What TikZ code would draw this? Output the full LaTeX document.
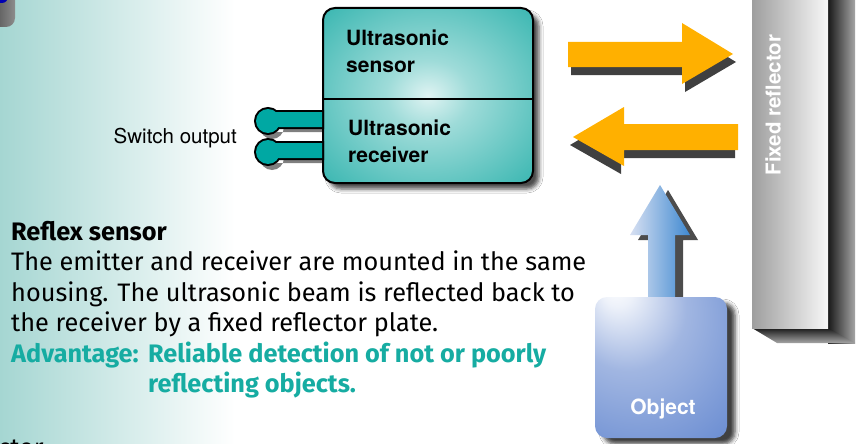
\documentclass[tikz,border=0pt]{standalone}
\usepackage{fontspec}
\setmainfont{Fira Sans}
\newfontfamily\helv{TeX Gyre Heros}
\usetikzlibrary{shadows.blur}
\definecolor{bgteal}{RGB}{165,214,210}
\definecolor{boxteal}{RGB}{40,176,170}
\definecolor{pinteal}{RGB}{0,168,163}
\definecolor{advteal}{RGB}{22,172,162}
\definecolor{arroworange}{RGB}{255,176,0}
\definecolor{objblue}{RGB}{74,116,200}
\definecolor{objlight}{RGB}{190,204,234}
\pgfdeclareradialshading{objshade}{\pgfpoint{-18bp}{30bp}}{color(0bp)=(white); color(6bp)=(white!90!objblue); color(22bp)=(objlight!75!objblue); color(50bp)=(objblue!85!white); color(72bp)=(objblue)}
\pgfdeclareradialshading{sensorshade}{\pgfpoint{0bp}{0bp}}{color(0bp)=(white!85!boxteal); color(10bp)=(white!55!boxteal); color(40bp)=(boxteal); color(72bp)=(boxteal!92!black)}
\tikzset{
  bodytext/.style={anchor=base west, inner sep=0pt, font=\fontsize{25.3}{30}\selectfont},
  bodybold/.style={anchor=base west, inner sep=0pt, font=\bfseries\fontsize{25.3}{30}\selectfont},
  helvtext/.style={inner sep=0pt, font=\helv\bfseries\fontsize{21}{26}\selectfont},
  orangearrow/.style={fill=arroworange},
  arrowshadow/.style={fill=black, opacity=0.75},
}
\begin{document}
\begin{tikzpicture}[x=1pt,y=-1pt]
\clip (0,0) rectangle (856,444);
\fill[white] (0,0) rectangle (856,444);
% background gradient
\shade[left color=bgteal, right color=white] (0,0) rectangle (235,444);
% top-left corner fragment
\shade[left color=black!90, right color=black!45, rounded corners=9pt] (-30,-30) rectangle (15,27);
\fill[blue!70!black, rounded corners=6pt] (-30,-30) rectangle (8,3);

% ---------------- sensor box ----------------
\node[shade, shading=sensorshade, draw=black, line width=2pt, rounded corners=12pt,
      minimum width=210pt, minimum height=175pt, inner sep=0pt,
      blur shadow={shadow xshift=6pt, shadow yshift=-6pt, shadow opacity=70, shadow blur radius=4pt}]
      (sensor) at (428,95.5) {};
\coordinate (divL) at (323,99);
\coordinate (divR) at (533,99);
\draw[line width=2pt] (divL) -- (divR);
\node[helvtext, anchor=base west] (s1) at (346,46) {Ultrasonic};
\node[helvtext, anchor=base west] (s2) at (346,72) {sensor};
\node[helvtext, anchor=base west] (r1) at (348,135) {Ultrasonic};
\node[helvtext, anchor=base west] (r2) at (348,162) {receiver};

% ---------------- pins ----------------
\coordinate (p1) at (268,121);
\coordinate (p2) at (268,152);
\foreach \p in {p1,p2}{
  \fill[black, opacity=0.5] ([shift={(4,6)}]\p) circle (12) ([shift={(4,-5)}]\p) rectangle ([shift={(0,11)}]sensor.west |- \p);
}
\foreach \p in {p1,p2}{
  \draw[line width=4pt] (\p) circle (12) ([yshift=-6pt]\p) rectangle ([yshift=9pt]sensor.west |- \p);
}
\foreach \p in {p1,p2}{
  \fill[pinteal] (\p) circle (12) ([yshift=-6pt]\p) rectangle ([yshift=9pt]sensor.west |- \p);
}
\node[inner sep=0pt, anchor=base east, font=\helv\fontsize{20.5}{24}\selectfont] (sw) at (237,143) {Switch output};

% ---------------- orange arrows ----------------
\fill[arrowshadow, shift={(3,8)}]
  (568,42) -- (682,42) -- (682,23) -- (733,54) -- (682,84) -- (682,67) -- (568,67) -- cycle;
\fill[orangearrow]
  (568,42) -- (682,42) -- (682,23) -- (733,54) -- (682,84) -- (682,67) -- (568,67) -- cycle;
\fill[arrowshadow, shift={(-3,8)}]
  (738,124) -- (624,124) -- (624,107) -- (573,137) -- (624,166) -- (624,150) -- (738,150) -- cycle;
\fill[orangearrow]
  (738,124) -- (624,124) -- (624,107) -- (573,137) -- (624,166) -- (624,150) -- (738,150) -- cycle;

% ---------------- reflector ----------------
\shade[left color=black!90, right color=black!35] (828,0) rectangle (855,343);
\shade[top color=black!90, bottom color=black!35] (752,328) -- (777,343) -- (855,343) -- (828,328) -- cycle;
\node[left color=black!38, right color=white!97!black, minimum width=76pt, minimum height=328pt, inner sep=0pt] (reflector) at (790,164) {};
\node[rotate=90, text=white, font=\helv\bfseries\fontsize{20.5}{24}\selectfont, inner sep=0pt] (refllabel) at (773,105) {Fixed reflector};

% ---------------- object ----------------
\fill[black, opacity=0.7] (656,302) -- (656,240) -- (638,240) -- (668,190) -- (698,240) -- (683,240) -- (683,302) -- cycle;
\shade[left color=objlight!60!white, right color=objblue!85!cyan] (648,300) -- (648,235) -- (630,235) -- (660,185) -- (690,235) -- (675,235) -- (675,300) -- cycle;
\node[shading=objshade, shade, rounded corners=12pt, minimum width=132pt, minimum height=141pt, inner sep=0pt,
      blur shadow={shadow xshift=8pt, shadow yshift=-6pt, shadow opacity=75, shadow blur radius=4pt}]
      (object) at (661,367.5) {};
\node[text=white, font=\helv\bfseries\fontsize{21}{24}\selectfont, inner sep=0pt, anchor=base] (objlabel) at (663,414) {Object};

% ---------------- body text ----------------
\node[bodybold] (title) at (11,240) {Reflex sensor};
\node[bodytext] (l1) at (11,270.5) {The emitter and receiver are mounted in the same};
\node[bodytext] (l2) at (11,301) {housing. The ultrasonic beam is reflected back to};
\node[bodytext] (l3) at (11,331.5) {the receiver by a fixed reflector plate.};
\node[bodybold, text=advteal] (adv) at (11,362) {Advantage:};
\node[bodybold, text=advteal] (adv1) at (148,362) {Reliable detection of not or poorly};
\node[bodybold, text=advteal] (adv2) at (148,392.5) {reflecting objects.};
\node[bodytext] (frag) at (-2,456) {ctor};
\end{tikzpicture}
\end{document}
